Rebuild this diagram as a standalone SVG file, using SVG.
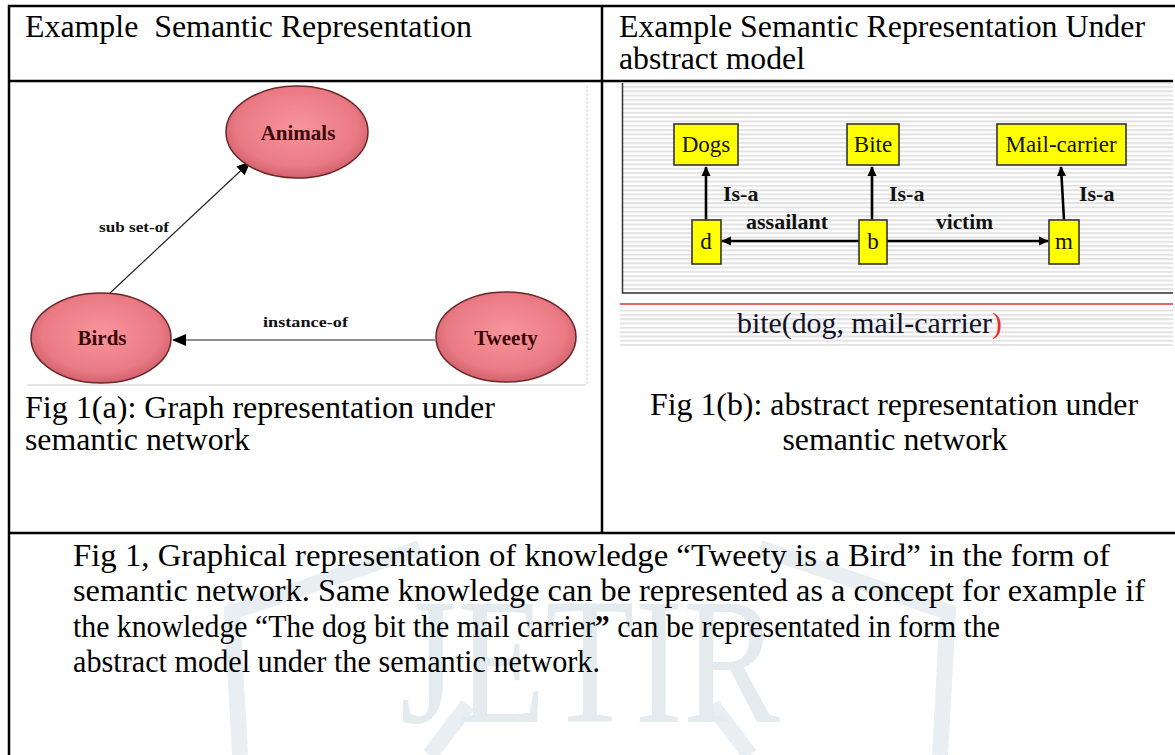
<svg xmlns="http://www.w3.org/2000/svg" width="1175" height="755" viewBox="0 0 1175 755">
<style>
.doc{font-family:"Liberation Serif","Times New Roman",Times,serif;font-size:31px;fill:#000}
.ell{fill:url(#eg);stroke:#6b2626;stroke-width:1.5}
.etx{font-family:"Liberation Serif","Times New Roman",Times,serif;font-weight:bold;font-size:21px;fill:#3a0808;text-anchor:middle}
.elab{font-family:"Liberation Serif","Times New Roman",Times,serif;font-weight:bold;font-size:15px;fill:#111}
.box{fill:#ffff00;stroke:#333;stroke-width:1.6}
.btx{font-family:"Liberation Serif","Times New Roman",Times,serif;font-size:23px;fill:#111;text-anchor:middle}
.blab{font-family:"Liberation Serif","Times New Roman",Times,serif;font-weight:bold;font-size:22px;fill:#111}
.tbl{stroke:#000;stroke-width:2.5;fill:none}
.conA{stroke:#222;stroke-width:1.2;fill:none}
.conB{stroke:#000;stroke-width:2.6;fill:none}
.wm{font-family:"Liberation Serif","Times New Roman",Times,serif}
</style>
<defs>
<radialGradient id="eg" cx="50%" cy="45%" r="60%">
<stop offset="0" stop-color="#f8959c"/>
<stop offset="0.7" stop-color="#ea7a84"/>
<stop offset="1" stop-color="#c85a66"/>
</radialGradient>
<pattern id="stripes" x="0" y="0" width="8" height="4.3" patternUnits="userSpaceOnUse">
<rect width="8" height="4.3" fill="#ffffff"/>
<rect width="8" height="2" fill="#e3e3e3"/>
</pattern>
<marker id="ahA" markerWidth="14" markerHeight="12" refX="13" refY="6" orient="auto" markerUnits="userSpaceOnUse">
<path d="M0,0 L14,6 L0,12 Z" fill="#000"/>
</marker>
<marker id="ahB" markerWidth="10" markerHeight="10" refX="9" refY="5" orient="auto" markerUnits="userSpaceOnUse">
<path d="M0,0.5 L10,5 L0,9.5 Z" fill="#000"/>
</marker>
</defs>
<rect width="1175" height="755" fill="#fff"/>

<g id="watermark" fill="none" stroke="#e8eef2" stroke-width="16">
<path d="M240,755 L232,612 L420,548"/>
<path d="M940,755 L948,612 L760,548"/>
<path d="M430,755 L468,705"/>
<path d="M750,755 L712,705"/>
<text class="wm" x="590" y="722" text-anchor="middle" stroke="none" fill="#e4ebef" font-size="180" textLength="380" lengthAdjust="spacingAndGlyphs">JETIR</text>
</g>

<g id="table">
<line class="tbl" x1="8" y1="6" x2="1175" y2="6"/>
<line class="tbl" x1="9" y1="5" x2="9" y2="755"/>
<line class="tbl" x1="8" y1="81" x2="1173" y2="81"/>
<line class="tbl" x1="602" y1="5" x2="602" y2="533"/>
<line class="tbl" x1="8" y1="533" x2="1175" y2="533"/>
</g>

<g id="headers">
<text class="doc" x="25" y="37" textLength="447" lengthAdjust="spacingAndGlyphs" xml:space="preserve">Example  Semantic Representation</text>
<text class="doc" x="619" y="37" textLength="526" lengthAdjust="spacingAndGlyphs">Example Semantic Representation Under</text>
<text class="doc" x="619" y="69" textLength="186" lengthAdjust="spacingAndGlyphs">abstract model</text>
</g>

<g id="panel-a">
<rect x="27" y="84" width="560" height="301" fill="#fff"/>
<line x1="27" y1="385" x2="586" y2="385" stroke="#dcdcdc" stroke-width="1.5"/>
<line x1="587" y1="86" x2="587" y2="384" stroke="#d8d8d8" stroke-width="2" stroke-dasharray="1.5 2.5"/>
</g>

<g id="panel-b">
<rect x="622" y="83" width="551" height="210" fill="url(#stripes)"/>
<path d="M622.5,83 L622.5,293 L1173,293" fill="none" stroke="#333" stroke-width="1.5"/>
<line x1="620" y1="304" x2="1173" y2="304" stroke="#e53030" stroke-width="1.5"/>
<rect x="620" y="307" width="553" height="39" fill="url(#stripes)"/>
<text class="btx" x="737" y="333" style="text-anchor:start;font-size:29px;fill:#101028" textLength="265" lengthAdjust="spacingAndGlyphs">bite(dog, mail-carrier<tspan style="fill:#e53030">)</tspan></text>
</g>

<g id="connectors">
<line class="conA" x1="110" y1="293" x2="250" y2="162" marker-end="url(#ahA)"/>
<line class="conA" x1="435" y1="340" x2="173" y2="340" marker-end="url(#ahA)"/>
<text class="elab" x="99" y="232" textLength="70" lengthAdjust="spacingAndGlyphs">sub set-of</text>
<text class="elab" x="263" y="327" textLength="85" lengthAdjust="spacingAndGlyphs">instance-of</text>
<line class="conB" x1="706" y1="220" x2="706" y2="167" marker-end="url(#ahB)"/>
<line class="conB" x1="872" y1="220" x2="872" y2="167" marker-end="url(#ahB)"/>
<line class="conB" x1="1064" y1="220" x2="1061" y2="167" marker-end="url(#ahB)"/>
<line class="conB" x1="859" y1="241" x2="722" y2="241" marker-end="url(#ahB)"/>
<line class="conB" x1="887" y1="241" x2="1048" y2="241" marker-end="url(#ahB)"/>
<text class="blab" x="723" y="201">Is-a</text>
<text class="blab" x="889" y="201">Is-a</text>
<text class="blab" x="1079" y="201">Is-a</text>
<text class="blab" x="746" y="229" textLength="82" lengthAdjust="spacingAndGlyphs">assailant</text>
<text class="blab" x="936" y="229" textLength="57" lengthAdjust="spacingAndGlyphs">victim</text>
</g>

<g id="node-animals">
<ellipse class="ell" cx="297" cy="132" rx="71" ry="46"/>
<text class="etx" x="298" y="140">Animals</text>
</g>
<g id="node-birds">
<ellipse class="ell" cx="101" cy="338" rx="70" ry="45"/>
<text class="etx" x="102" y="345">Birds</text>
</g>
<g id="node-tweety">
<ellipse class="ell" cx="506" cy="337" rx="70" ry="45"/>
<text class="etx" x="506" y="345">Tweety</text>
</g>

<g id="node-dogs">
<rect class="box" x="674" y="124" width="64" height="41"/>
<text class="btx" x="706" y="152">Dogs</text>
</g>
<g id="node-bite">
<rect class="box" x="847" y="124" width="52" height="41"/>
<text class="btx" x="873" y="152">Bite</text>
</g>
<g id="node-mailcarrier">
<rect class="box" x="997" y="124" width="129" height="41"/>
<text class="btx" x="1061" y="152">Mail-carrier</text>
</g>
<g id="node-d">
<rect class="box" x="692" y="220" width="29" height="44"/>
<text class="btx" x="706" y="249">d</text>
</g>
<g id="node-b">
<rect class="box" x="859" y="220" width="28" height="44"/>
<text class="btx" x="873" y="249">b</text>
</g>
<g id="node-m">
<rect class="box" x="1049" y="220" width="30" height="44"/>
<text class="btx" x="1064" y="249">m</text>
</g>

<g id="captions">
<text class="doc" x="25" y="418" textLength="470" lengthAdjust="spacingAndGlyphs">Fig 1(a): Graph representation under</text>
<text class="doc" x="25" y="450" textLength="225" lengthAdjust="spacingAndGlyphs">semantic network</text>
<text class="doc" x="894" y="415" text-anchor="middle" textLength="488" lengthAdjust="spacingAndGlyphs">Fig 1(b): abstract representation under</text>
<text class="doc" x="895" y="450" text-anchor="middle" textLength="225" lengthAdjust="spacingAndGlyphs">semantic network</text>
</g>

<g id="caption">
<text class="doc" x="73" y="566" textLength="1037" lengthAdjust="spacingAndGlyphs">Fig 1, Graphical representation of knowledge “Tweety is a Bird” in the form of</text>
<text class="doc" x="73" y="601" textLength="1072" lengthAdjust="spacingAndGlyphs">semantic network. Same knowledge can be represented as a concept for example if</text>
<text class="doc" x="73" y="637" textLength="927" lengthAdjust="spacingAndGlyphs">the knowledge “The dog bit the mail carrier<tspan font-weight="bold">”</tspan> can be representated in form the</text>
<text class="doc" x="73" y="672" textLength="527" lengthAdjust="spacingAndGlyphs">abstract model under the semantic network.</text>
</g>
</svg>
